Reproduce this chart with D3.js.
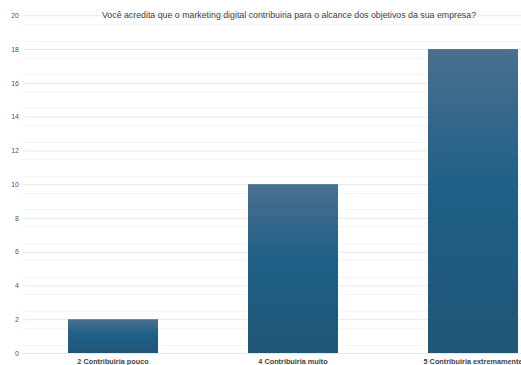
<!DOCTYPE html>
<html>
<head>
<meta charset="utf-8">
<script src="https://cdnjs.cloudflare.com/ajax/libs/d3/7.8.5/d3.min.js"></script>
<style>
  body { margin: 0; background: #fff; }
  svg { display: block; font-family: "Liberation Sans", Arial, sans-serif; }
</style>
</head>
<body>
<svg width="521" height="365"></svg>
<script>
var categories = ["2 Contribuiria pouco", "4 Contribuiria muito", "5 Contribuiria extremamente"];
var values = [2, 10, 18];
var yTicks = [0, 2, 4, 6, 8, 10, 12, 14, 16, 18, 20];
var title = "Você acredita que o marketing digital contribuiria para o alcance dos objetivos da sua empresa?";

var svg = d3.select("svg"),
    plotLeft = 23,
    plotTop = 15.3,
    plotBottom = 353;

var x = d3.scaleBand()
    .domain(categories)
    .range([plotLeft, plotLeft + 540])
    .paddingInner(0.5)
    .paddingOuter(0.25);

var y = d3.scaleLinear()
    .domain([0, 20])
    .range([plotBottom, plotTop]);

var defs = svg.append("defs");
var grad = defs.append("linearGradient")
    .attr("id", "barGrad")
    .attr("x1", 0).attr("y1", 0).attr("x2", 0).attr("y2", 1);
grad.append("stop").attr("offset", "0%").attr("stop-color", "#4a6f8f");
grad.append("stop").attr("offset", "45%").attr("stop-color", "#1f6087");
grad.append("stop").attr("offset", "100%").attr("stop-color", "#1f5677");

// minor grid
svg.append("g")
    .selectAll("line")
    .data(d3.range(0.5, 20, 1))
    .enter().append("line")
      .attr("x1", plotLeft).attr("x2", 521)
      .attr("y1", function(d) { return Math.round(y(d)) + 0.5; })
      .attr("y2", function(d) { return Math.round(y(d)) + 0.5; })
      .attr("stroke", "#f5f5f5");

// major grid + labels
var yAxis = svg.append("g")
    .attr("transform", "translate(" + plotLeft + ",0)")
    .call(d3.axisLeft(y).tickValues(yTicks).tickSize(-(521 - plotLeft)).tickPadding(4));
yAxis.select(".domain").remove();
yAxis.selectAll(".tick line").attr("stroke", "#e8e8e8");
yAxis.selectAll(".tick text")
    .attr("fill", "#555")
    .attr("font-size", 7);

svg.append("text")
    .attr("x", 289)
    .attr("y", 18)
    .attr("text-anchor", "middle")
    .attr("font-size", 8.8)
    .attr("fill", "#444")
    .text(title);

svg.append("g")
    .selectAll("rect")
    .data(values)
    .enter().append("rect")
      .attr("x", function(d, i) { return x(categories[i]); })
      .attr("y", function(d) { return y(d); })
      .attr("width", x.bandwidth())
      .attr("height", function(d) { return y(0) - y(d); })
      .attr("fill", "url(#barGrad)");

var xAxis = svg.append("g")
    .attr("transform", "translate(0," + plotBottom + ")")
    .call(d3.axisBottom(x).tickSize(0).tickPadding(6));
xAxis.select(".domain").remove();
xAxis.selectAll(".tick text")
    .attr("fill", "#444")
    .attr("font-size", 7.3)
    .attr("font-weight", "bold");
</script>
</body>
</html>
